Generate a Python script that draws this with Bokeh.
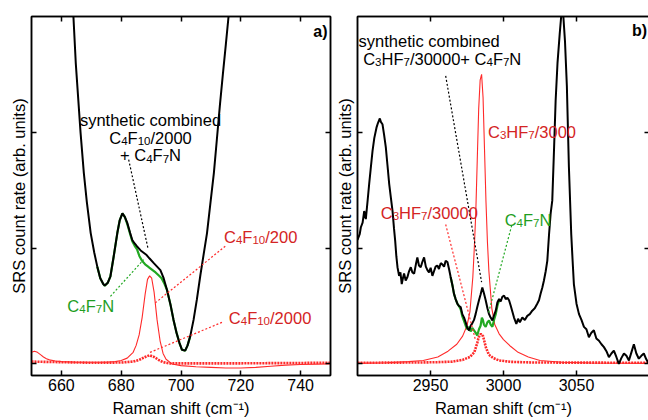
import re
from bokeh.plotting import figure
from bokeh.models import Range1d, LinearAxis, FixedTicker, CustomJSTickFormatter, ColumnDataSource
from bokeh.layouts import row
from bokeh.core.properties import value
from bokeh.embed import file_html
from bokeh.resources import INLINE

FONT = "Liberation Sans"

# ---------------- Panel a) data ----------------
a_ticks_x = [660, 680, 700, 720, 740]
a_black_x = [663.5, 664, 664.8, 665.6, 666.4, 667.5, 668.5, 669.8, 671, 672, 673, 674, 674.5, 675.5, 676.4,
             677.5, 678.7, 679.5, 680.4, 681.2, 682, 683, 683.7, 684.5, 685.3, 686.5, 687.5, 688.5, 689.5,
             690.9, 692, 693.1, 694.2, 695.3, 696.5, 697.5, 698.5, 699.5, 700.3, 701.4, 702.2, 703.1, 704.2,
             705.3, 706.5, 707.6, 708.7, 709.8, 711, 712, 713, 714, 715, 715.9, 716.5]
a_black_y = [3.15, 3.01, 2.6, 2.3, 2.0, 1.65, 1.40, 1.13, 0.96, 0.84, 0.74, 0.69, 0.676, 0.70, 0.757,
             0.93, 1.13, 1.24, 1.30, 1.27, 1.22, 1.13, 1.07, 1.04, 1.015, 0.98, 0.96, 0.94, 0.91,
             0.87, 0.84, 0.81, 0.74, 0.64, 0.51, 0.38, 0.27, 0.18, 0.123, 0.115, 0.16, 0.24, 0.38,
             0.555, 0.77, 0.95, 1.13, 1.38, 1.65, 1.94, 2.23, 2.5, 2.76, 3.0, 3.15]
a_green_x = [672, 673, 674, 674.5, 675.5, 676.4, 677.5, 678.7, 679.5, 680.4, 681.2, 682, 683, 683.7, 684.5,
             685.3, 686.1, 687, 688, 689, 689.5, 690.5, 691.5, 692.5, 693.5, 694.5, 695.3, 696.5, 697.5,
             698.5, 699.5, 700.3, 701.4, 702.2, 703.1]
a_green_y = [0.84, 0.74, 0.69, 0.676, 0.70, 0.757, 0.93, 1.13, 1.24, 1.30, 1.27, 1.21, 1.12, 1.06, 1.02,
             0.99, 0.93, 0.89, 0.86, 0.84, 0.83, 0.81, 0.79, 0.765, 0.74, 0.69, 0.64, 0.51, 0.38,
             0.27, 0.18, 0.123, 0.115, 0.16, 0.24]
a_red200_x = [650, 651, 652, 653, 654, 655, 656, 658, 660, 665, 670, 675, 678, 680, 682, 684, 685, 686, 687,
              688, 688.8, 689.5, 690.2, 691, 692, 693, 694, 695, 697, 700, 705, 710, 715, 720, 725, 730,
              735, 740, 750]
a_red200_y = [0.10, 0.11, 0.10, 0.08, 0.06, 0.045, 0.035, 0.025, 0.02, 0.015, 0.015, 0.015, 0.02, 0.03, 0.05,
              0.10, 0.16, 0.25, 0.40, 0.60, 0.73, 0.76, 0.74, 0.62, 0.38, 0.20, 0.09, 0.04, 0.0, -0.015,
              -0.025, -0.03, -0.035, -0.035, -0.03, -0.02, -0.01, -0.005, 0.0]
a_red2000_x = [650, 660, 670, 680, 684, 686, 688, 689.5, 691, 692.5, 694, 696, 700, 720, 750]
a_red2000_y = [0.02, 0.015, 0.01, 0.012, 0.02, 0.035, 0.06, 0.075, 0.06, 0.035, 0.015, 0.005, 0.005, 0.005, 0.01]

# ---------------- Panel b) data ----------------
b_ticks_x = [2950, 3000, 3050]
b_black_x = [2900, 2901.5, 2902.3, 2903.5, 2904.6, 2905.7, 2907, 2908, 2909, 2910.3, 2911.5, 2913, 2914,
             2915.3, 2916, 2917.1, 2918.2, 2919.4, 2920.5, 2921.7, 2923, 2924, 2925, 2925.8, 2926.6, 2927.4,
             2928.5, 2929.4, 2930.3, 2931.1, 2931.9, 2933, 2934.2, 2935.3, 2936.5, 2937.6, 2938.8, 2940,
             2941, 2942.1, 2943.3, 2944.4, 2945.6, 2946.8, 2947.9, 2949, 2950.1, 2951.3, 2952.4, 2953.5,
             2954.7, 2955.8, 2957, 2958.1, 2959.3, 2960.4, 2961.6, 2962.7, 2963.8, 2965, 2966.1, 2967.2,
             2968.4, 2969.5, 2970.7, 2971.8, 2973, 2974.1, 2975.2, 2976.4, 2977.5, 2978.6, 2979.8, 2980.9,
             2982, 2983.2, 2984.3, 2985.5, 2986.6, 2987.8, 2989, 2990.1, 2991.2, 2992.4, 2993.5, 2994.7,
             2995.8, 2997, 2998.1, 2999.2, 3000.4, 3001.5, 3002.7, 3003.8, 3005, 3006.1, 3007.2, 3008.8,
             3010, 3011.2, 3012.9, 3014.6, 3016.3, 3018, 3019.7, 3021.4, 3023.1, 3024.3, 3025.4, 3026.6,
             3027.7, 3028.9, 3030, 3031.2, 3032.3, 3033.4, 3034.6, 3035.7, 3037, 3038.5, 3039.5, 3040.2,
             3041, 3042.1, 3043.4, 3044.8, 3046.4, 3047.3, 3048.2, 3050, 3051.7, 3053.4, 3055.1, 3056.8,
             3058.5, 3060.2, 3061.9, 3063.6, 3065.4, 3067.1, 3068.8, 3070.5, 3072.2, 3073.9, 3075.6, 3077.3,
             3079, 3080.7, 3082.5, 3084.2, 3085.9, 3087.6, 3089.3, 3091, 3092.7, 3094.4, 3096.1, 3097.8,
             3099.6, 3100]
b_black_y = [1.07, 1.12, 1.18, 1.22, 1.32, 1.25, 1.42, 1.555, 1.68, 1.84, 1.95, 2.04, 2.08,
             2.12, 2.09, 2.07, 1.98, 1.87, 1.72, 1.555, 1.42, 1.32, 1.17, 1.065, 0.93, 0.835,
             0.76, 0.79, 0.69, 0.74, 0.78, 0.72, 0.75, 0.80, 0.835, 0.79, 0.78, 0.86,
             0.92, 0.85, 0.835, 0.88, 0.92, 0.84, 0.81, 0.79, 0.83, 0.76, 0.80, 0.84,
             0.85, 0.82, 0.87, 0.86, 0.84, 0.89, 0.88, 0.82, 0.75, 0.68, 0.605, 0.56,
             0.52, 0.50, 0.49, 0.43, 0.40, 0.36, 0.31, 0.29, 0.33, 0.35, 0.38, 0.43,
             0.49, 0.55, 0.60, 0.66, 0.61, 0.55, 0.48, 0.43, 0.40, 0.375, 0.42, 0.46,
             0.53, 0.56, 0.54, 0.58, 0.59, 0.56, 0.57, 0.55, 0.50, 0.45, 0.40, 0.346,
             0.39, 0.36, 0.40, 0.38, 0.415, 0.43, 0.46, 0.48, 0.52, 0.55, 0.605, 0.66,
             0.72, 0.80, 0.89, 1.12, 1.30, 1.41, 1.85, 2.27, 2.60, 2.85, 3.0, 3.05,
             3.0, 2.79, 2.4, 1.7, 1.12, 0.9, 0.69, 0.52, 0.43, 0.38, 0.32, 0.30,
             0.23, 0.27, 0.29, 0.22, 0.20, 0.17, 0.145, 0.11, 0.058, 0.09, 0.115, 0.06,
             0.0, 0.05, 0.09, 0.07, 0.03, 0.10, 0.17, 0.09, 0.045, 0.07, 0.09, 0.04,
             0.0, 0.02]
b_green_x = [2963.8, 2965, 2966.1, 2967.2, 2968.4, 2969.5, 2970.7, 2971.8, 2973, 2974.1, 2975.2, 2976.4,
             2977.5, 2978.6, 2979.8, 2980.9, 2982, 2983.2, 2984.3, 2985.2, 2985.9, 2986.6, 2987.8, 2989,
             2990.1, 2991.2, 2992.4, 2993.5, 2994.7, 2995.8, 2997, 2998.1]
b_green_y = [0.75, 0.68, 0.605, 0.56, 0.52, 0.50, 0.47, 0.41, 0.37, 0.33, 0.30, 0.32,
             0.28, 0.31, 0.29, 0.27, 0.245, 0.30, 0.33, 0.40, 0.38, 0.34, 0.32, 0.36,
             0.375, 0.34, 0.32, 0.38, 0.43, 0.50, 0.55, 0.54]
b_red3000_x = [2900, 2920, 2935, 2945, 2955, 2962, 2968, 2972, 2975, 2977, 2979, 2980, 2981, 2982, 2983,
               2984, 2985, 2986, 2987, 2988, 2989, 2990, 2992, 2994, 2997, 3000, 3005, 3010, 3017, 3025,
               3040, 3060, 3100]
b_red3000_y = [0.005, 0.01, 0.02, 0.03, 0.06, 0.11, 0.17, 0.24, 0.33, 0.45, 0.75, 1.0, 1.3, 1.75, 2.2,
               2.45, 2.5, 2.3, 1.85, 1.4, 1.05, 0.8, 0.48, 0.34, 0.26, 0.21, 0.15, 0.1, 0.06, 0.03,
               0.015, 0.008, 0.005]
b_red30000_x = [2900, 2940, 2955, 2965, 2972, 2977, 2980, 2982, 2983, 2984.5, 2986, 2987, 2988, 2990, 2993,
                2997, 3005, 3020, 3100]
b_red30000_y = [0.01, 0.012, 0.015, 0.02, 0.035, 0.06, 0.1, 0.18, 0.23, 0.26, 0.24, 0.19, 0.14, 0.08, 0.05,
                0.03, 0.018, 0.012, 0.01]

y_ticks = [0, 1, 2]

# ---------------- Annotation texts (_{..} marks a subscript) ----------------
a_label_text = ["synthetic combined", "C_{4}F_{10}/2000", "+ C_{4}F_{7}N"]
b_label_text = ["synthetic combined", "C_{3}HF_{7}/30000+ C_{4}F_{7}N"]

RED_T = "#d42424"
GREEN_T = "#1f9e1f"
RED_L = "#ff2a2a"
GREEN_L = "#22a822"

MAIN_PX = 16.5
SUB_PX = 11.5
# Arial / Liberation Sans advance widths (per em)
ADV = {'C': 0.722, 'F': 0.611, 'H': 0.722, 'N': 0.722, '/': 0.278, '+': 0.584, ' ': 0.278}
for _d in "0123456789":
    ADV[_d] = 0.556


def style(p, ticks_x):
    p.grid.visible = False
    p.outline_line_color = "black"
    p.outline_line_width = 1.5
    p.background_fill_color = "white"
    p.border_fill_color = "white"
    empty = CustomJSTickFormatter(code="return ''")
    xa = p.xaxis[0]
    xa.ticker = FixedTicker(ticks=ticks_x)
    xa.axis_label = "Raman shift (cm\u207b\u00b9)"
    ya = p.yaxis[0]
    ya.ticker = FixedTicker(ticks=y_ticks)
    ya.formatter = empty
    ya.axis_label = "SRS count rate (arb. units)"
    top = LinearAxis(ticker=FixedTicker(ticks=ticks_x), formatter=empty)
    right = LinearAxis(ticker=FixedTicker(ticks=y_ticks), formatter=empty)
    p.add_layout(top, "above")
    p.add_layout(right, "right")
    for ax in [xa, ya, top, right]:
        ax.major_tick_in = 5
        ax.major_tick_out = 0
        ax.minor_tick_in = 0
        ax.minor_tick_out = 0
        ax.axis_line_width = 1.5
        ax.major_tick_line_width = 1.5
        ax.axis_line_color = "black"
        ax.major_tick_line_color = "black"
        ax.major_label_text_font = FONT
        ax.major_label_text_font_size = "16px"
        ax.major_label_text_color = "black"
        ax.axis_label_text_font = FONT
        ax.axis_label_text_font_size = "16.5px"
        ax.axis_label_text_font_style = "normal"
        ax.axis_label_text_color = "black"
    xa.major_label_standoff = 3
    xa.axis_label_standoff = 5
    ya.major_label_standoff = 0
    ya.axis_label_standoff = 4
    top.major_label_standoff = 0
    right.major_label_standoff = 0


def rich(p, x, y, spec, color, align="left"):
    """Draw text with real subscripts: pieces placed with pixel offsets."""
    parts = re.split(r"(_\{[^}]*\})", spec)
    pieces = []
    for part in parts:
        if not part:
            continue
        if part.startswith("_{"):
            txt = part[2:-1]
            w = sum(ADV.get(c, 0.556) for c in txt) * SUB_PX
            pieces.append((txt, True, w))
        else:
            w = sum(ADV.get(c, 0.556) for c in part) * MAIN_PX
            pieces.append((part, False, w))
    total = sum(w for _, _, w in pieces)
    start = 0.0
    if align == "center":
        start = -total / 2
    elif align == "right":
        start = -total
    xs, ys, ts, xo, yo, fs = [], [], [], [], [], []
    cur = start
    for txt, sub, w in pieces:
        xs.append(x)
        ys.append(y)
        ts.append(txt)
        xo.append(cur)
        yo.append(3.1 if sub else 0.0)
        fs.append(f"{SUB_PX if sub else MAIN_PX}px")
        cur += w
    src = ColumnDataSource(dict(x=xs, y=ys, t=ts, xo=xo, yo=yo, fs=fs))
    p.text(x="x", y="y", text="t", source=src, x_offset="xo", y_offset="yo", text_font_size="fs",
           text_color=color, text_align="left", text_baseline="alphabetic", text_font=value(FONT))


def plain(p, x, y, txt, color, align="left", size="16.5px", style_="normal"):
    p.text(x=[x], y=[y], text=[txt], text_color=color, text_align=align, text_baseline="middle",
           text_font=value(FONT), text_font_size=size, text_font_style=style_)


def leader(p, x0, y0, x1, y1, color):
    p.segment(x0=[x0], y0=[y0], x1=[x1], y1=[y1], line_color=color, line_width=1.2, line_dash="2 2")


# ---------------- Panel a ----------------
pa = figure(frame_width=299, frame_height=359, x_range=Range1d(650, 750), y_range=Range1d(-0.1, 3.0),
            output_backend="svg", toolbar_location=None,
            min_border_left=31, min_border_right=2, min_border_top=16, min_border_bottom=45)
style(pa, a_ticks_x)
pa.line(a_red2000_x, a_red2000_y, line_color=RED_L, line_width=2.6, line_dash="2 1")
pa.line(a_red200_x, a_red200_y, line_color=RED_L, line_width=1.1)
pa.line(a_green_x, a_green_y, line_color=GREEN_L, line_width=2.2)
pa.line(a_black_x, a_black_y, line_color="black", line_width=2.0)

leader(pa, 682.5, 1.764, 689.0, 0.993, "black")
leader(pa, 676.4, 0.584, 687.5, 0.90, GREEN_L)
leader(pa, 714.8, 1.016, 691.4, 0.527, RED_L)
leader(pa, 713.7, 0.359, 689.2, 0.095, RED_L)

plain(pa, 689.8, 2.11, a_label_text[0], "black", align="center")
rich(pa, 689.8, 1.955, a_label_text[1], "black", align="center")
rich(pa, 689.8, 1.80, a_label_text[2], "black", align="center")
rich(pa, 669.8, 0.503, "C_{4}F_{7}N", GREEN_T, align="center")
rich(pa, 714.4, 1.10, "C_{4}F_{10}/200", RED_T)
rich(pa, 716.0, 0.397, "C_{4}F_{10}/2000", RED_T)
plain(pa, 749.0, 2.87, "a)", "black", align="right", size="16px", style_="bold")

# ---------------- Panel b ----------------
pb = figure(frame_width=292, frame_height=359, x_range=Range1d(2900, 3100), y_range=Range1d(-0.1, 3.0),
            output_backend="svg", toolbar_location=None,
            min_border_left=23, min_border_right=1, min_border_top=16, min_border_bottom=45)
style(pb, b_ticks_x)
pb.line(b_red30000_x, b_red30000_y, line_color=RED_L, line_width=2.6, line_dash="2 1")
pb.line(b_red3000_x, b_red3000_y, line_color=RED_L, line_width=1.1)
pb.line(b_green_x, b_green_y, line_color=GREEN_L, line_width=2.2)
pb.line(b_black_x, b_black_y, line_color="black", line_width=2.0)

leader(pb, 2960.4, 2.487, 2985.0, 0.706, "black")
leader(pb, 2960.4, 1.204, 2980.9, 0.202, RED_L)
leader(pb, 3005.6, 1.195, 2989.6, 0.435, GREEN_L)

plain(pb, 2900.7, 2.79, b_label_text[0], "black")
rich(pb, 2903.9, 2.635, b_label_text[1], "black")
rich(pb, 2989.4, 2.0, "C_{3}HF_{7}/3000", RED_T)
rich(pb, 2915.9, 1.305, "C_{3}HF_{7}/30000", RED_T)
rich(pb, 3000.8, 1.247, "C_{4}F_{7}N", GREEN_T)
plain(pb, 3098.4, 2.88, "b)", "black", align="right", size="16px", style_="bold")

layout = row(pa, pb)
open("out.html", "w").write(file_html(layout, INLINE))
